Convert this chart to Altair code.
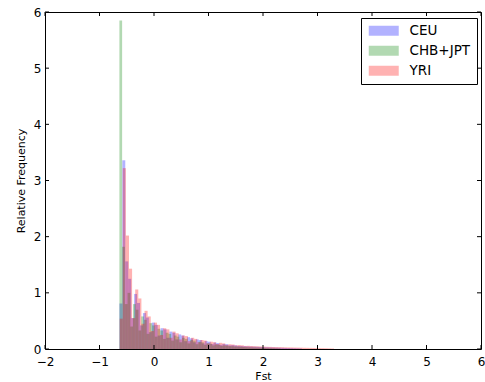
import altair as alt
import pandas as pd

series_names = ["CEU", "CHB+JPT", "YRI"]
series_colors = ["#0000ff", "#008000", "#ff0000"]

# histogram bins (start of first bin, bin width, heights)
ceu_start, ceu_width = -0.635, 0.054
ceu_heights = [0.81, 3.36, 1.56, 1.25, 0.55, 0.98, 0.82, 0.42, 0.64, 0.56,
               0.30, 0.47, 0.43, 0.24, 0.37, 0.35, 0.20, 0.31, 0.29, 0.17,
               0.26, 0.24, 0.14, 0.21, 0.19, 0.12, 0.17, 0.16, 0.10, 0.14,
               0.13, 0.09, 0.115, 0.105, 0.075, 0.09, 0.085, 0.065, 0.07, 0.065,
               0.055, 0.055, 0.05, 0.047, 0.044, 0.042, 0.04, 0.037, 0.035, 0.033,
               0.031, 0.029, 0.027, 0.025, 0.023, 0.021, 0.019, 0.017, 0.015, 0.013,
               0.011, 0.009]

chb_start, chb_width = -0.635, 0.050
chb_heights = [5.85, 1.82, 0.80, 1.00, 0.40, 0.80, 0.70, 0.33, 0.58, 0.52,
               0.27, 0.46, 0.42, 0.22, 0.36, 0.33, 0.18, 0.29, 0.27, 0.15,
               0.24, 0.22, 0.12, 0.20, 0.18, 0.10, 0.16, 0.15, 0.085, 0.13,
               0.12, 0.075, 0.10, 0.095, 0.065, 0.08, 0.075, 0.055, 0.065, 0.06,
               0.05, 0.05, 0.045, 0.042, 0.039, 0.036, 0.033, 0.03, 0.028, 0.026,
               0.024, 0.022, 0.02, 0.018, 0.016, 0.014, 0.012, 0.01, 0.008]

yri_start, yri_width = -0.630, 0.057
yri_heights = [0.54, 3.22, 2.02, 1.43, 0.55, 1.06, 0.90, 0.45, 0.68, 0.58,
               0.32, 0.47, 0.43, 0.25, 0.37, 0.35, 0.20, 0.31, 0.28, 0.17,
               0.24, 0.23, 0.14, 0.20, 0.18, 0.12, 0.16, 0.15, 0.10, 0.13,
               0.12, 0.09, 0.11, 0.10, 0.075, 0.085, 0.08, 0.065, 0.07, 0.065,
               0.055, 0.057, 0.053, 0.05, 0.048, 0.045, 0.043, 0.04, 0.038, 0.036,
               0.034, 0.033, 0.032, 0.03, 0.029, 0.028, 0.026, 0.025, 0.024, 0.022,
               0.021, 0.02, 0.019, 0.018, 0.016, 0.015, 0.013, 0.011, 0.009]

x_ticks = [-2, -1, 0, 1, 2, 3, 4, 5, 6]
y_ticks = [0, 1, 2, 3, 4, 5, 6]

rows = []
for name, start, w, hs in [("CEU", ceu_start, ceu_width, ceu_heights),
                           ("CHB+JPT", chb_start, chb_width, chb_heights),
                           ("YRI", yri_start, yri_width, yri_heights)]:
    for i, h in enumerate(hs):
        rows.append({"series": name, "x0": start + i * w, "x1": start + (i + 1) * w, "h": h})
df = pd.DataFrame(rows)

W, H = 436, 337
FONT = "DejaVu Sans"

xscale = alt.Scale(domain=[-2, 6], nice=False, zero=False)
yscale = alt.Scale(domain=[0, 6], nice=False)

bars = alt.Chart(df).mark_rect(opacity=0.3, strokeWidth=0).encode(
    x=alt.X("x0:Q", scale=xscale,
            axis=alt.Axis(values=x_ticks, format="d", ticks=False, grid=False, domain=False,
                          title="Fst", labelFont=FONT, labelFontSize=12, labelColor="black",
                          labelPadding=7, titleFont=FONT, titleFontSize=11, titleFontWeight="normal",
                          titleColor="black", titlePadding=3, labelFlush=False)),
    x2="x1:Q",
    y=alt.Y("h:Q", scale=yscale,
            axis=alt.Axis(values=y_ticks, format="d", ticks=False, grid=False, domain=False,
                          title="Relative Frequency", labelFont=FONT, labelFontSize=12,
                          labelColor="black", labelPadding=4, titleFont=FONT, titleFontSize=11,
                          titleFontWeight="normal", titleColor="black", titlePadding=7,
                          labelFlush=False)),
    y2=alt.datum(0),
    color=alt.Color("series:N",
                    scale=alt.Scale(domain=series_names, range=series_colors),
                    sort=series_names,
                    legend=alt.Legend(title=None, orient="none", legendX=316, legendY=6,
                                      strokeColor="black", fillColor="white", padding=6,
                                      symbolType="M-1,-1H5V1H-1Z", symbolSize=100,
                                      symbolOpacity=0.3, symbolStrokeWidth=0,
                                      labelFont=FONT, labelFontSize=13.5, labelColor="black",
                                      labelOffset=29, rowPadding=5, cornerRadius=0)),
)

xt = pd.DataFrame({"v": x_ticks})
yt = pd.DataFrame({"v": y_ticks})

xticks_bottom = alt.Chart(xt).mark_rule(color="black", strokeWidth=1).encode(
    x=alt.X("v:Q", scale=xscale, axis=None), y=alt.value(H), y2=alt.value(H - 4))
xticks_top = alt.Chart(xt).mark_rule(color="black", strokeWidth=1).encode(
    x=alt.X("v:Q", scale=xscale, axis=None), y=alt.value(0), y2=alt.value(4))
yticks_left = alt.Chart(yt).mark_rule(color="black", strokeWidth=1).encode(
    y=alt.Y("v:Q", scale=yscale, axis=None), x=alt.value(0), x2=alt.value(4))
yticks_right = alt.Chart(yt).mark_rule(color="black", strokeWidth=1).encode(
    y=alt.Y("v:Q", scale=yscale, axis=None), x=alt.value(W), x2=alt.value(W - 4))

chart = alt.layer(bars, xticks_bottom, xticks_top, yticks_left, yticks_right).resolve_axis(
    x="independent", y="independent"
).properties(
    width=W, height=H,
    autosize=alt.AutoSizeParams(type="none"),
    padding={"left": 45, "top": 12, "right": 4, "bottom": 33},
    background="white",
).configure_view(stroke="black", strokeWidth=1)

chart.save("out.html", embed_options={"renderer": "svg", "actions": False})
